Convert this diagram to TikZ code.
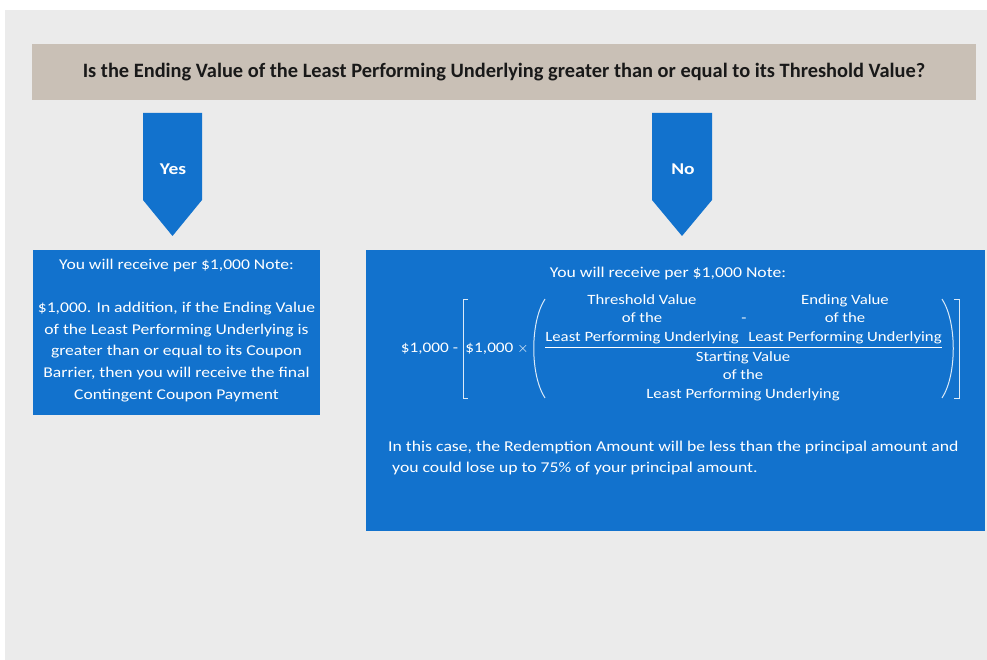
\documentclass[tikz,border=0pt]{standalone}
\usepackage{fontspec}
\setmainfont{Carlito}
\newfontfamily\bodyf[FakeStretch=1.18]{Carlito}
\definecolor{bg}{HTML}{EBEBEB}
\definecolor{hdr}{HTML}{C9C0B6}
\definecolor{blu}{HTML}{1272CD}
\begin{document}
\begin{tikzpicture}[x=1pt,y=-1pt,
  hdrbox/.style={fill=hdr,inner sep=0pt,font=\fontsize{20.4}{24}\selectfont\bfseries,text=black!90},
  bluebox/.style={fill=blu,inner sep=0pt},
  arrowshape/.style={fill=blu},
  lbl/.style={text=white,inner sep=0pt,font=\bodyf\fontsize{16.5}{19}\selectfont\bfseries},
  wtxt/.style={text=white,inner sep=0pt,align=center,font=\bodyf\fontsize{14.9}{21.6}\selectfont},
  ftxt/.style={text=white,inner sep=0pt,align=center,font=\bodyf\fontsize{14.2}{18.5}\selectfont},
  ttxt/.style={text=white,inner sep=0pt,align=center,font=\bodyf\fontsize{15}{19}\selectfont},
  brk/.style={draw=white!85!blu,line width=1pt}]
\useasboundingbox (0,0) rectangle (987,660);
\fill[white] (0,0) rectangle (987,660);
\fill[bg] (5,10) rectangle (987,660);
\node[hdrbox,minimum width=944pt,minimum height=56pt] (q) at (504,72) {Is the Ending Value of the Least Performing Underlying greater than or equal to its Threshold Value?};
% arrows
\fill[arrowshape] (143,113) -- (202,113) -- (202,200) -- (172.5,236) -- (143,200) -- cycle;
\node[lbl] (yes) at (173,169) {Yes};
\fill[arrowshape] (652,113) -- (712,113) -- (712,200) -- (682,236) -- (652,200) -- cycle;
\node[lbl] (no) at (683,169) {No};
% left box
\node[bluebox,minimum width=287pt,minimum height=165pt] (yesbox) at (176.5,332.5) {};
\node[wtxt] (yestxt) at (176.5,330.5) {You will receive per \$1,000 Note:\\ \\ \$1,000. In addition, if the Ending Value\\of the Least Performing Underlying is\\greater than or equal to its Coupon\\Barrier, then you will receive the final\\Contingent Coupon Payment};
% right box
\node[bluebox,minimum width=619pt,minimum height=281pt] (nobox) at (675.5,390.5) {};
\node[ttxt] (notitle) at (668,274) {You will receive per \$1,000 Note:};
\node[ttxt,font=\bodyf\fontsize{14.6}{18}\selectfont] (p1) at (429.5,349) {\$1,000 -};
\node[ttxt,font=\bodyf\fontsize{14.6}{18}\selectfont] (p2) at (497,349) {\$1,000 $\times$};
\node[ftxt] (numl) at (642,319) {Threshold Value\\of the\\Least Performing Underlying};
\node[ftxt] (minus) at (744,320) {-};
\node[ftxt] (numr) at (845,319) {Ending Value\\of the\\Least Performing Underlying};
\node[ftxt] (den) at (743,376) {Starting Value\\of the\\Least Performing Underlying};
\draw[draw=white,line width=0.7pt] (numl.south west |- 0,347.5) coordinate (fl) -- (numr.south east |- 0,347.5) coordinate (fr);
% brackets
\draw[brk] (468,299) -- (463,299) -- (463,398) -- (468,398);
\draw[brk] (954,299) -- (959,299) -- (959,398) -- (954,398);
\draw[brk] (545,299) .. controls (530,322) and (530,375) .. (545,398);
\draw[brk] (942,299) .. controls (957,322) and (957,375) .. (942,398);
\node[ttxt,anchor=base west] (n1) at (388,451) {In this case, the Redemption Amount will be less than the principal amount and};
\node[ttxt,anchor=base west] (n2) at (392,472) {you could lose up to 75\% of your principal amount.};
\end{tikzpicture}
\end{document}
